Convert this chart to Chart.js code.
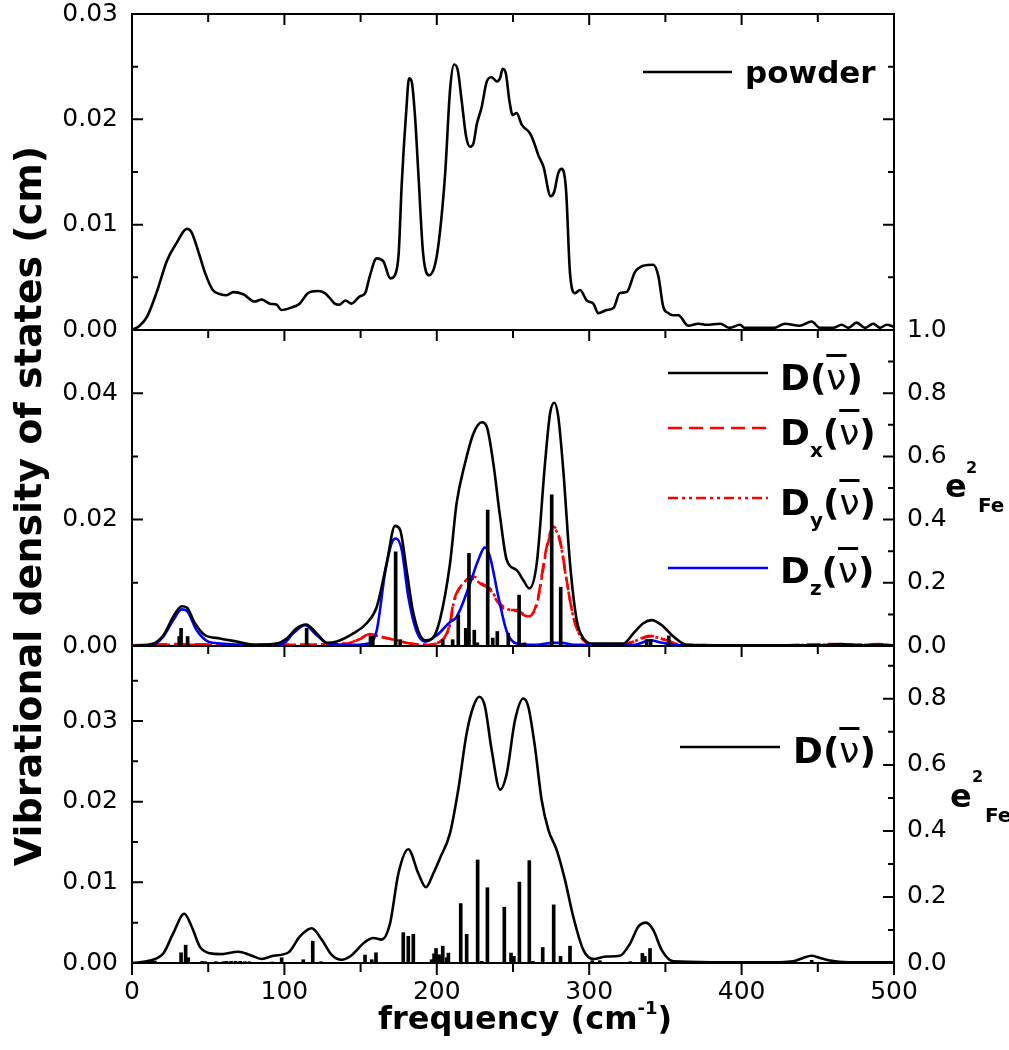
<!DOCTYPE html>
<html>
<head>
<meta charset="utf-8">
<script src="https://cdn.jsdelivr.net/npm/chart.js"></script>
<style>
body { margin: 0; background: #fff; }
#wrap { position: relative; width: 1009px; height: 1050px; }
#dos { position: absolute; left: 0; top: 0; }
#keys { position: absolute; left: 0; top: 0; }
.t { position: absolute; font-family: 'DejaVu Sans', sans-serif; font-weight: bold; line-height: 1; white-space: nowrap; color: #000; }
.nu { font-weight: normal; text-decoration: overline; text-decoration-thickness: 3px; }
.sb { font-size: 20px; position: relative; top: 12px; }
.sp { font-size: 18px; position: relative; top: -15px; }
</style>
</head>
<body>
<div id="wrap">
  <canvas id="dos" width="1009" height="1050"></canvas>
  <svg id="keys" width="1009" height="1050">
    <g stroke-width="2.6">
      <line x1="643" y1="72" x2="732" y2="72" stroke="#000"/>
      <line x1="668" y1="373" x2="768" y2="373" stroke="#000"/>
      <line x1="668" y1="428" x2="768" y2="428" stroke="#ff0000" stroke-dasharray="14 7"/>
      <line x1="668" y1="498" x2="768" y2="498" stroke="#ff0000" stroke-dasharray="10 4 3 4 3 4"/>
      <line x1="668" y1="568" x2="768" y2="568" stroke="#0000ff"/>
      <line x1="680" y1="747" x2="780" y2="747" stroke="#000"/>
    </g>
  </svg>
  <div class="t" style="left:745px; top:57px; font-size:31px;">powder</div>

  <div class="t" style="left:780px; top:360px; font-size:36px;">D(<span class="nu">ν</span>)</div>
  <div class="t" style="left:780px; top:415px; font-size:36px;">D<span class="sb">x</span>(<span class="nu">ν</span>)</div>
  <div class="t" style="left:780px; top:485px; font-size:36px;">D<span class="sb">y</span>(<span class="nu">ν</span>)</div>
  <div class="t" style="left:780px; top:553px; font-size:36px;">D<span class="sb">z</span>(<span class="nu">ν</span>)</div>
  <div class="t" style="left:793px; top:733px; font-size:36px;">D(<span class="nu">ν</span>)</div>

  <div class="t" style="left:945px; top:470px; font-size:32px;">e</div>
  <div class="t" style="left:966px; top:460px; font-size:16px;">2</div>
  <div class="t" style="left:978px; top:495px; font-size:20px;">Fe</div>
  <div class="t" style="left:950px; top:780px; font-size:32px;">e</div>
  <div class="t" style="left:972px; top:769px; font-size:16px;">2</div>
  <div class="t" style="left:985px; top:805px; font-size:20px;">Fe</div>

  <div class="t" style="left:378px; top:1002px; font-size:32px;">frequency (cm<span class="sp">-1</span>)</div>
  <div class="t" style="left:28px; top:506px; font-size:38px; transform: translate(-50%, -50%) rotate(-90deg);">Vibrational density of states (cm)</div>
</div>

<script>
// top panel: powder spectrum
const powderFreq = [0, 5, 10, 16, 23, 29, 36, 39, 44.5, 48, 53, 58, 62, 66.5, 73, 80.5, 85, 90.5, 95, 98,
  104, 110, 115.5, 122, 126.5, 130, 133, 136, 140, 144, 149.5, 153, 156, 160.5, 165, 169.5, 172.5, 175, 177, 180,
  181.8, 183.5, 185.7, 188, 191, 195, 199, 202, 205.5, 208.7, 211.3, 213.7, 216.3, 219.2, 221.8, 224, 226.2, 229.5, 232.8, 236,
  239.3, 241.5, 243.2, 245.4, 247.6, 249.8, 252.4, 255.7, 261, 263.3, 266.6, 270, 274.7, 277, 279.7, 282, 284.8, 287.4, 290.7, 294,
  298.4, 302.7, 306, 311.5, 316, 320, 324.6, 330, 335.5, 342, 345.4, 348.6, 352, 355, 358.5, 365, 371.6, 377, 386, 392,
  399, 402, 412, 421, 428.5, 438, 446, 451.4, 460, 465.7, 470, 475.5, 481, 486.4, 490.8, 495.2, 500];
const powderDos = [0, 0.0004, 0.0013, 0.0035, 0.0066, 0.0082, 0.0096, 0.0093, 0.0070, 0.0054, 0.0038, 0.0034, 0.0033, 0.0036, 0.0034, 0.0027, 0.0029, 0.0025, 0.0024, 0.0019,
  0.0021, 0.0025, 0.0035, 0.0037, 0.0035, 0.0030, 0.0025, 0.0024, 0.0028, 0.0025, 0.0032, 0.0035, 0.0051, 0.0068, 0.0065, 0.0049, 0.0052, 0.0073, 0.0139, 0.0209,
  0.0239, 0.0236, 0.0203, 0.0146, 0.0073, 0.0052, 0.0063, 0.0092, 0.0149, 0.0228, 0.0252, 0.0247, 0.0218, 0.0184, 0.0174, 0.0177, 0.0195, 0.0212, 0.0236, 0.0240,
  0.0236, 0.0239, 0.0248, 0.0243, 0.0218, 0.0204, 0.0206, 0.0195, 0.0187, 0.0180, 0.0166, 0.0155, 0.0127, 0.0131, 0.0149, 0.0153, 0.0133, 0.0054, 0.0035, 0.0038,
  0.0028, 0.0025, 0.0016, 0.0019, 0.0021, 0.0035, 0.0036, 0.0055, 0.0061, 0.0062, 0.0051, 0.0022, 0.0016, 0.0014, 0.0014, 0.0004, 0.0006, 0.0005, 0.0006, 0.0002,
  0.0005, 0.0002, 0.0002, 0.0002, 0.0006, 0.0004, 0.0008, 0.0002, 0.0002, 0.0005, 0.0002, 0.0007, 0.0002, 0.0006, 0.0002, 0.0005, 0.0003];

// middle panel: total and projected DOS
const totFreq = [0, 14, 20.6, 27, 32.6, 36, 41.3, 48, 57.7, 68.7, 79.6, 95, 101.5, 108, 114.2, 121.2, 127.8, 134.3, 145.2, 154,
  160.6, 167.1, 172.6, 175.9, 180.2, 184.6, 192.3, 197, 202, 208.7, 213, 218.5, 224, 229.5, 232.8, 237.1, 241.5, 245.9, 252.4, 256.8,
  260.7, 265.6, 271, 274.3, 277.1, 279.7, 283, 287.4, 291.8, 296.2, 302.7, 322.4, 329, 335.5, 341, 348.6, 355.2, 364, 400, 450,
  465, 480, 490, 500];
const totDos = [0, 0.0004, 0.0017, 0.0046, 0.0063, 0.0061, 0.0036, 0.0017, 0.0012, 0.0007, 0.0002, 0.0004, 0.0012, 0.0028, 0.0034, 0.0020, 0.0005, 0.0007, 0.0020, 0.0036,
  0.0062, 0.0131, 0.0190, 0.0184, 0.0120, 0.0052, 0.0009, 0.0012, 0.0041, 0.0131, 0.0226, 0.0289, 0.0336, 0.0354, 0.0347, 0.0289, 0.0205, 0.0136, 0.0120, 0.0104,
  0.0091, 0.0131, 0.0289, 0.0368, 0.0385, 0.0363, 0.0278, 0.0131, 0.0041, 0.0012, 0.0004, 0.0004, 0.0020, 0.0036, 0.0041, 0.0031, 0.0015, 0.0002, 0.0001, 0.0001,
  0.0003, 0.0001, 0.0002, 0.0001];

const xyFreq = [0, 30, 60, 100, 141, 149.6, 156.2, 162.7, 173.7, 182.4, 193.3, 202.1, 208.7, 210.8, 217.4, 224, 229.5, 234.9, 240.4, 245.9,
  252.4, 260, 265.6, 272.1, 276.4, 280.8, 285.2, 289.6, 296.2, 305, 320, 329, 339.9, 350.8, 359.6, 420, 460, 475, 490, 500];
const dxDos = [0.0001, 0.0003, 0.0002, 0.0002, 0.0004, 0.0012, 0.0019, 0.0015, 0.0009, 0.0004, 0.0002, 0.0007, 0.0036, 0.0068, 0.0099, 0.0110, 0.0099, 0.0089, 0.0068, 0.0057,
  0.0057, 0.0046, 0.0068, 0.0157, 0.0189, 0.0168, 0.0104, 0.0046, 0.0009, 0.0002, 0.0002, 0.0007, 0.0016, 0.0009, 0.0002, 0.0001, 0.0003, 0.0002, 0.0003, 0.0001];
const dyDos = [0.0001, 0.0002, 0.0002, 0.0002, 0.0004, 0.0011, 0.0018, 0.0015, 0.0009, 0.0004, 0.0002, 0.0007, 0.0034, 0.0065, 0.0100, 0.0106, 0.0097, 0.0091, 0.0070, 0.0059,
  0.0055, 0.0047, 0.0066, 0.0153, 0.0186, 0.0166, 0.0103, 0.0046, 0.0009, 0.0002, 0.0002, 0.0007, 0.0015, 0.0009, 0.0002, 0.0001, 0.0002, 0.0002, 0.0002, 0.0001];

const zFreq = [0, 14, 20.6, 27.1, 32.6, 35.9, 42.4, 50, 57.7, 80, 99.3, 105.8, 113.5, 121.2, 128.9, 145, 155, 160.6, 166, 170.4,
  173.2, 177, 181.3, 186.8, 192.3, 200, 208.7, 213, 221.8, 227.2, 231.6, 234.9, 240.4, 245.9, 252.4, 265, 276.4, 282, 290, 330,
  339.9, 348, 360, 500];
const zDos = [0, 0.0002, 0.0015, 0.0041, 0.0058, 0.0056, 0.0025, 0.0007, 0.0004, 0.0002, 0.0004, 0.0020, 0.0033, 0.0017, 0.0004, 0.0002, 0.0004, 0.0025, 0.0115, 0.0163,
  0.0170, 0.0152, 0.0078, 0.0023, 0.0007, 0.0017, 0.0038, 0.0046, 0.0099, 0.0136, 0.0156, 0.0141, 0.0078, 0.0023, 0.0004, 0.0002, 0.0005, 0.0005, 0.0002, 0.0002,
  0.0009, 0.0005, 0.0001, 0.0001];

const midStickFreq = [31, 32.2, 36.5, 114.6, 156.5, 158, 173, 176, 203.9, 210.4, 214.1, 219, 221.1, 224.6, 226.6, 233.4, 236.7, 239.7, 246.9, 254,
  257.5, 275.4, 281.3, 337.7, 340.3, 352.2];
const midStickE2 = [0.03, 0.056, 0.03, 0.056, 0.03, 0.032, 0.298, 0.02, 0.02, 0.02, 0.098, 0.056, 0.293, 0.05, 0.01, 0.43, 0.025, 0.046, 0.04, 0.161,
  0.01, 0.478, 0.186, 0.02, 0.02, 0.032];

// bottom panel
const botFreq = [0, 11.8, 20.6, 27.1, 34.3, 39.2, 44.6, 51.2, 57.7, 69.8, 77.4, 85.1, 92.7, 102.6, 110.2, 117.9, 124.5, 131, 137.6, 143,
  152.9, 158.3, 163.8, 169.3, 174.8, 181.3, 187.9, 192.9, 197.7, 202.1, 208.7, 214.1, 219.6, 224, 227.9, 231.6, 236, 241.5, 245.9, 251.3,
  256.8, 260, 264.4, 268.8, 273.2, 278.7, 284.1, 289.6, 296.2, 302.7, 311.5, 320.2, 326.8, 332.2, 337.3, 342, 347.6, 355.2, 380, 425,
  433.8, 440, 446, 452, 458, 470, 500];
const botDos = [0, 0.0003, 0.0012, 0.0037, 0.0061, 0.0045, 0.0020, 0.0012, 0.0011, 0.0014, 0.0010, 0.0005, 0.0009, 0.0013, 0.0033, 0.0043, 0.0029, 0.0010, 0.0004, 0.0008,
  0.0026, 0.0031, 0.0029, 0.0049, 0.0111, 0.0141, 0.0111, 0.0094, 0.0111, 0.0130, 0.0161, 0.0215, 0.0285, 0.0318, 0.0330, 0.0318, 0.0264, 0.0215, 0.0235, 0.0301,
  0.0328, 0.0318, 0.0268, 0.0202, 0.0165, 0.0140, 0.0103, 0.0057, 0.0016, 0.0005, 0.0008, 0.0009, 0.0024, 0.0045, 0.0050, 0.0041, 0.0016, 0.0002, 0.0001, 0.0001,
  0.0002, 0.0006, 0.0009, 0.0006, 0.0003, 0.0001, 0.0001];

const botStickFreq = [13, 15, 32.2, 35.2, 36.9, 46, 48, 55, 60, 62, 65, 68, 71, 74, 77, 92, 98.2, 112.4, 118.6, 124,
  152.9, 157.3, 160.1, 178, 181.3, 184.6, 196.6, 198.2, 199.5, 201.5, 202.8, 203.9, 206.5, 207.6, 215.7, 219.6, 226.8, 229.5, 233.2, 244.3,
  248.7, 250.6, 254.2, 260.7, 263, 269.5, 276.7, 281.2, 287.4, 302, 307, 327, 334.9, 336.5, 339.9, 446];
const botStickE2 = [0.006, 0.006, 0.031, 0.054, 0.016, 0.005, 0.004, 0.004, 0.004, 0.005, 0.005, 0.005, 0.005, 0.004, 0.004, 0.003, 0.016, 0.01, 0.066, 0.004,
  0.024, 0.01, 0.031, 0.092, 0.081, 0.087, 0.01, 0.028, 0.044, 0.025, 0.02, 0.051, 0.016, 0.03, 0.18, 0.087, 0.312, 0.005, 0.228, 0.169,
  0.03, 0.02, 0.245, 0.31, 0.005, 0.047, 0.176, 0.02, 0.051, 0.007, 0.007, 0.004, 0.029, 0.02, 0.044, 0.008];

const pts = (fs, vs) => fs.map((f, i) => ({ x: f, y: vs[i] }));
const isStep = (v, s) => Math.abs(v / s - Math.round(v / s)) < 1e-6;

const tickFont = { family: "'DejaVu Sans', sans-serif", size: 25, lineHeight: 1 };
const majorStep = { x: 100, yTop: 0.01, yMid: 0.02, yBot: 0.01, rTop: 0.01, rMid: 0.2, rBot: 0.2 };

function yScale(position, weight, max, step, labelStep, digits, show) {
  return {
    type: 'linear',
    position: position,
    stack: position,
    stackWeight: weight,
    min: 0,
    max: max,
    grid: { display: false, drawTicks: false },
    border: { display: false },
    ticks: {
      display: show,
      stepSize: step,
      autoSkip: false,
      includeBounds: false,
      padding: position === 'left' ? 14 : 13,
      color: '#000',
      font: tickFont,
      callback: v => isStep(v, labelStep) ? v.toFixed(digits) : ''
    },
    afterFit: s => {
      s.width = position === 'left' ? 132 : 115;
      s.paddingTop = 0;
      s.paddingBottom = 0;
    }
  };
}

// frame lines and inward ticks, placed through the chart's own scales
const frameTicks = {
  id: 'frameTicks',
  afterDatasetsDraw(chart) {
    const c = chart.ctx, area = chart.chartArea, xs = chart.scales.x;
    const major = (id, v) => isStep(v, majorStep[id]);
    c.save();
    c.strokeStyle = '#000';
    c.lineWidth = 2;
    c.beginPath();
    for (const id of ['yTop', 'yMid', 'yBot']) {
      const s = chart.scales[id];
      c.rect(area.left, s.top, area.right - area.left, s.bottom - s.top);
      for (const t of xs.ticks) {
        const px = xs.getPixelForValue(t.value);
        c.moveTo(px, s.top);
        c.lineTo(px, s.top + (major('x', t.value) ? 11 : 8));
      }
      for (const t of s.ticks) {
        const py = s.getPixelForValue(t.value);
        c.moveTo(area.left, py);
        c.lineTo(area.left + (major(id, t.value) ? 11 : 6), py);
      }
    }
    for (const t of xs.ticks) {
      const px = xs.getPixelForValue(t.value);
      c.moveTo(px, area.bottom);
      c.lineTo(px, area.bottom + (major('x', t.value) ? 12 : 9));
    }
    for (const id of ['rTop', 'rMid', 'rBot']) {
      const s = chart.scales[id];
      for (const t of s.ticks) {
        const py = s.getPixelForValue(t.value);
        c.moveTo(area.right, py);
        c.lineTo(area.right - (major(id, t.value) ? 11 : 6), py);
      }
    }
    c.stroke();
    c.restore();
  }
};

new Chart(document.getElementById('dos'), {
  type: 'line',
  data: {
    datasets: [
      { type: 'bar', data: pts(midStickFreq, midStickE2), yAxisID: 'rMid', backgroundColor: '#000', barThickness: 3, grouped: false },
      { type: 'bar', data: pts(botStickFreq, botStickE2), yAxisID: 'rBot', backgroundColor: '#000', barThickness: 3, grouped: false },
      { data: pts(powderFreq, powderDos), yAxisID: 'yTop', borderColor: '#000', borderWidth: 2.6 },
      { data: pts(totFreq, totDos), yAxisID: 'yMid', borderColor: '#000', borderWidth: 2.6 },
      { data: pts(zFreq, zDos), yAxisID: 'yMid', borderColor: '#0000ff', borderWidth: 2.6 },
      { data: pts(xyFreq, dxDos), yAxisID: 'yMid', borderColor: '#ff0000', borderWidth: 2.6, borderDash: [14, 7] },
      { data: pts(xyFreq, dyDos), yAxisID: 'yMid', borderColor: '#ff0000', borderWidth: 2.6, borderDash: [10, 4, 3, 4, 3, 4] },
      { data: pts(botFreq, botDos), yAxisID: 'yBot', borderColor: '#000', borderWidth: 2.6 }
    ]
  },
  options: {
    responsive: false,
    animation: false,
    events: [],
    layout: { autoPadding: false, padding: { top: 14, left: 0, right: 0, bottom: 0 } },
    elements: {
      point: { radius: 0 },
      line: { fill: false, cubicInterpolationMode: 'monotone' }
    },
    plugins: { legend: { display: false }, tooltip: { enabled: false } },
    scales: {
      x: {
        type: 'linear',
        position: 'bottom',
        min: 0,
        max: 500,
        offset: false,
        grid: { display: false, drawTicks: false },
        border: { display: false },
        ticks: {
          stepSize: 50,
          autoSkip: false,
          maxRotation: 0,
          padding: 17,
          color: '#000',
          font: tickFont,
          callback: v => v % 100 === 0 ? String(v) : ''
        },
        afterFit: s => { s.height = 87; }
      },
      yBot: yScale('left', 317, 0.0393, 0.005, 0.01, 2, true),
      yMid: yScale('left', 316, 0.05, 0.01, 0.02, 2, true),
      yTop: yScale('left', 316, 0.03, 0.005, 0.01, 2, true),
      rTop: yScale('right', 316, 0.03, 0.005, 0.01, 2, false),
      rMid: yScale('right', 316, 1.0, 0.1, 0.2, 1, true),
      rBot: yScale('right', 317, 0.96, 0.1, 0.2, 1, true)
    }
  },
  plugins: [frameTicks]
});
</script>
</body>
</html>
